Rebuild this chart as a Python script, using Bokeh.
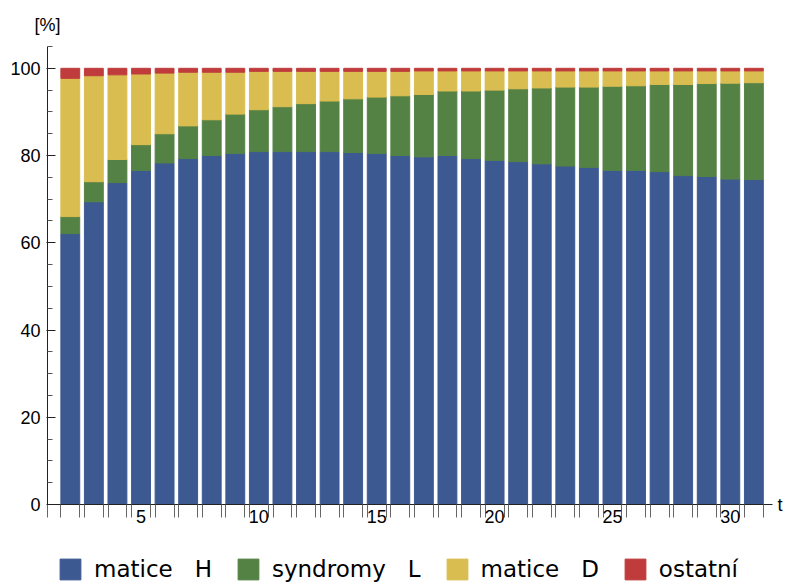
from bokeh.plotting import figure
from bokeh.layouts import column
from bokeh.models import (ColumnDataSource, FixedTicker, Range1d, LinearAxis,
                          Legend, LegendItem)
from bokeh.embed import file_html
from bokeh.resources import INLINE

# ---- data (percent shares per time step) ----
t = list(range(2, 32))
matice_H = [62.1, 69.4, 73.8, 76.6, 78.3, 79.3, 80.0, 80.5, 80.9, 80.9,
            80.9, 80.9, 80.7, 80.5, 80.0, 79.7, 80.0, 79.3, 78.9, 78.6,
            78.1, 77.6, 77.3, 76.6, 76.6, 76.3, 75.4, 75.2, 74.6, 74.5]
syndromy_L = [3.9, 4.6, 5.3, 5.9, 6.7, 7.5, 8.2, 9.0, 9.6, 10.3,
              11.0, 11.6, 12.3, 12.9, 13.7, 14.3, 14.8, 15.5, 16.1, 16.7,
              17.4, 18.1, 18.4, 19.3, 19.4, 20.0, 20.9, 21.3, 22.0, 22.2]
matice_D = [31.7, 24.3, 19.4, 16.2, 13.9, 12.3, 10.9, 9.6, 8.8, 8.1,
            7.4, 6.8, 6.3, 5.9, 5.6, 5.4, 4.6, 4.6, 4.4, 4.1,
            3.9, 3.7, 3.7, 3.5, 3.4, 3.1, 3.1, 2.9, 2.8, 2.7]
ostatni = [2.3, 1.7, 1.5, 1.3, 1.1, 0.9, 0.9, 0.9, 0.7, 0.7,
           0.7, 0.7, 0.7, 0.7, 0.7, 0.6, 0.6, 0.6, 0.6, 0.6,
           0.6, 0.6, 0.6, 0.6, 0.6, 0.6, 0.6, 0.6, 0.6, 0.6]

x_tick_values = [5, 10, 15, 20, 25, 30]
y_tick_values = [0, 20, 40, 60, 80, 100]
y_minor_values = [5, 10, 15, 25, 30, 35, 45, 50, 55, 65, 70, 75, 85, 90, 95, 105]

series = ["matice_H", "syndromy_L", "matice_D", "ostatni"]
legend_labels = ["matice   H", "syndromy   L", "matice   D", "ostatní"]
colors = ["#3D5992", "#548245", "#DABD50", "#C03C3C"]

source = ColumnDataSource(dict(t=t, matice_H=matice_H, syndromy_L=syndromy_L,
                               matice_D=matice_D, ostatni=ostatni))

X0, X1 = 1.033, 31.79
BAR_W = 0.8
FONT = "Liberation Sans"
AXIS_COL = "#222222"

# ---------------- main chart ----------------
p = figure(width=793, height=534, x_range=Range1d(X0, X1), y_range=Range1d(0, 105),
           output_backend="svg", toolbar_location=None,
           min_border_left=47, min_border_right=21, min_border_top=46, min_border_bottom=30)
p.grid.visible = False
p.outline_line_color = None
p.background_fill_color = "white"

p.vbar_stack(series, x="t", width=BAR_W, color=colors, source=source)

# x axis
edges = [X0 + 0.001] + [v - BAR_W / 2 for v in t] + [v + BAR_W / 2 for v in t]
xa = p.xaxis[0]
xa.ticker = FixedTicker(ticks=x_tick_values, minor_ticks=edges)
xa.major_tick_in = 0
xa.major_tick_out = 0
xa.minor_tick_in = 0
xa.minor_tick_out = 13
xa.minor_tick_line_color = "#666666"
xa.axis_line_color = AXIS_COL
xa.major_label_standoff = -8
xa.major_label_text_font = FONT
xa.major_label_text_font_size = "18px"
xa.major_label_text_color = "black"

# y axis
ya = p.yaxis[0]
ya.ticker = FixedTicker(ticks=y_tick_values, minor_ticks=y_minor_values)
ya.major_tick_in = 8
ya.major_tick_out = 1
ya.minor_tick_in = 5
ya.minor_tick_out = 0
ya.major_tick_line_color = AXIS_COL
ya.minor_tick_line_color = "#555555"
ya.axis_line_color = AXIS_COL
ya.major_label_standoff = 6
ya.major_label_text_font = FONT
ya.major_label_text_font_size = "18px"
ya.major_label_text_color = "black"


def caption_axis(tick, text, standoff):
    return LinearAxis(ticker=FixedTicker(ticks=[tick]), major_label_overrides={tick: text},
                      axis_line_color=None, major_tick_line_color=None,
                      minor_tick_line_color=None, major_tick_in=0, major_tick_out=0,
                      minor_tick_in=0, minor_tick_out=0, major_label_standoff=standoff,
                      major_label_text_font=FONT, major_label_text_font_size="18px",
                      major_label_text_color="black")


# "[%]" above the top of the y axis, "t" at the right end of the x axis
p.add_layout(caption_axis(X0, "[%]", 12), "above")
p.add_layout(caption_axis(0, "t", 5), "right")

# ---------------- legend strip ----------------
# same stacked series, kept out of this strip's view; only their legend entries show
p2 = figure(width=793, height=49, output_backend="svg", toolbar_location=None,
            x_range=Range1d(X0, X1), y_range=Range1d(1000, 1001),
            x_axis_location=None, y_axis_location=None,
            min_border_left=0, min_border_right=0, min_border_top=0, min_border_bottom=0)
p2.grid.visible = False
p2.outline_line_color = None
proxies = p2.vbar_stack(series, x="t", width=BAR_W, color=colors, source=source)
lg = Legend(items=[LegendItem(label=lab, renderers=[r]) for lab, r in zip(legend_labels, proxies)],
            location=(10, 1), orientation="horizontal", padding=0, margin=0,
            spacing=23, label_standoff=11, glyph_width=26, glyph_height=26,
            label_text_font="DejaVu Sans", label_text_font_size="23px",
            label_text_color="black", background_fill_alpha=0, border_line_color=None)
p2.add_layout(lg)

open("out.html", "w").write(file_html(column(p, p2), INLINE))
